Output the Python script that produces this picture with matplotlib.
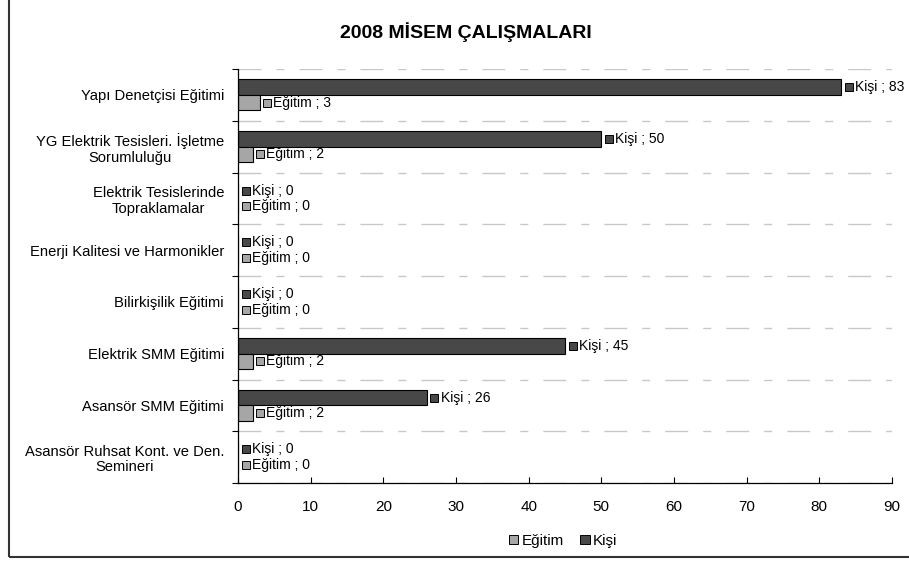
import matplotlib
matplotlib.use("Agg")
import matplotlib.pyplot as plt
import matplotlib.transforms as mtransforms
from matplotlib.patches import Rectangle
import numpy as np

plt.rcParams['font.family'] = ['Liberation Sans', 'DejaVu Sans']

categories = ["Yapı Denetçisi Eğitimi",
              "YG Elektrik Tesisleri. İşletme\nSorumluluğu",
              "Elektrik Tesislerinde\nTopraklamalar",
              "Enerji Kalitesi ve Harmonikler",
              "Bilirkişilik Eğitimi",
              "Elektrik SMM Eğitimi",
              "Asansör SMM Eğitimi",
              "Asansör Ruhsat Kont. ve Den.\nSemineri"]
egitim = [3, 2, 0, 0, 0, 2, 2, 0]
kisi = [83, 50, 0, 0, 0, 45, 26, 0]
xticks = [0, 10, 20, 30, 40, 50, 60, 70, 80, 90]
title = "2008 MİSEM ÇALIŞMALARI"

c_egitim = "#a6a6a6"
c_kisi = "#484848"

fig = plt.figure(figsize=(9.09, 5.61), dpi=100)
ax = fig.add_axes([238/909, 1-483/561, (892-238)/909, (483-69)/561])

n = len(categories)
y = np.arange(n)
h = 0.3
ax.barh(y - h/2, kisi, height=h, color=c_kisi, edgecolor="black", linewidth=0.8, zorder=3, label="Kişi")
ax.barh(y + h/2, egitim, height=h, color=c_egitim, edgecolor="black", linewidth=0.8, zorder=3, label="Eğitim")

ax.set_ylim(n - 0.5, -0.5)
ax.set_xlim(0, 90)
ax.set_xticks(xticks)
ax.set_xticklabels([str(t) for t in xticks], fontsize=11)
ax.set_yticks(y)
ax.set_yticklabels(categories, fontsize=10.6, multialignment='center', linespacing=1.15)
ax.set_yticks(np.arange(-0.5, n, 1), minor=True)
ax.tick_params(axis='y', which='major', length=0, pad=10)
ax.tick_params(axis='y', which='minor', length=4, direction='out', width=0.8)
ax.tick_params(axis='x', which='major', length=4, direction='in', width=0.8, pad=12)

for b in np.arange(-0.5, n, 1):
    ax.axhline(b, color="#c8c8c8", linewidth=1, dashes=(16.5, 10.8, 5.8, 10.8), zorder=1)

for s in ['top', 'right']:
    ax.spines[s].set_visible(False)
for s in ['left', 'bottom']:
    ax.spines[s].set_linewidth(0.9)
    ax.spines[s].set_zorder(4)

def label(val, yy, name, color):
    off_m = mtransforms.offset_copy(ax.transData, fig=fig, x=7.5, y=0, units='dots')
    ax.plot([val], [yy], marker='s', markersize=5.3, markerfacecolor=color,
            markeredgecolor='black', markeredgewidth=0.7, transform=off_m, zorder=5, clip_on=False)
    ax.annotate(f"{name} ; {val}", (val, yy), xytext=(9.8, 0), textcoords='offset points',
                fontsize=10, va='center', ha='left', zorder=5)

for i in range(n):
    label(kisi[i], y[i] - h/2, "Kişi", c_kisi)
    label(egitim[i], y[i] + h/2, "Eğitim", c_egitim)

fig.text(466/909, 1-32/561, title, fontsize=14, fontweight='bold', ha='center', va='center')

handles = [Rectangle((0, 0), 1, 1, facecolor=c_egitim, edgecolor='black', linewidth=0.7),
           Rectangle((0, 0), 1, 1, facecolor=c_kisi, edgecolor='black', linewidth=0.7)]
fig.legend(handles, ["Eğitim", "Kişi"], loc='center', bbox_to_anchor=(563/909, 1-541/561),
           ncol=2, frameon=False, fontsize=11, handlelength=0.6, handleheight=0.6,
           handletextpad=0.2, columnspacing=1.1)

fig.patches.append(Rectangle((9/909, 1-557/561), 2, 2, transform=fig.transFigure,
                             fill=False, edgecolor='#333333', linewidth=1.5))

fig.savefig("out.png", dpi=100)
